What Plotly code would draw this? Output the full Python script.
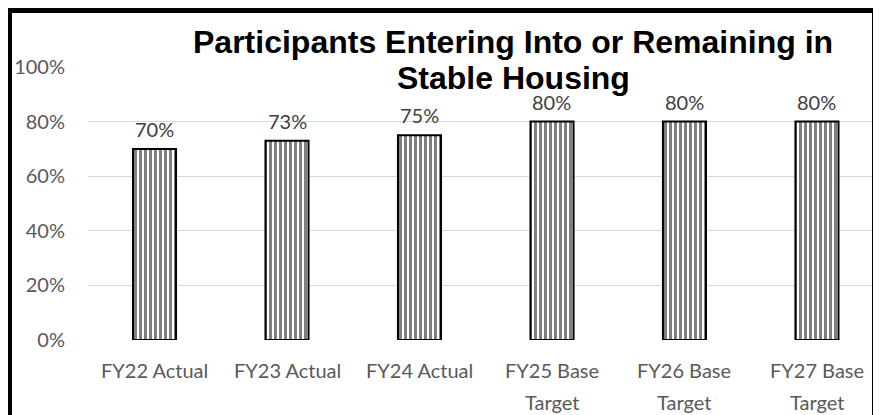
import plotly.graph_objects as go

categories = ["FY22 Actual", "FY23 Actual", "FY24 Actual", "FY25 Base Target", "FY26 Base Target", "FY27 Base Target"]
tick_lines = [["FY22 Actual"], ["FY23 Actual"], ["FY24 Actual"],
              ["FY25 Base", "Target"], ["FY26 Base", "Target"], ["FY27 Base", "Target"]]
values = [0.70, 0.73, 0.75, 0.80, 0.80, 0.80]
value_labels = ["70%", "73%", "75%", "80%", "80%", "80%"]
y_ticks = [0, 0.2, 0.4, 0.6, 0.8, 1.0]
y_tick_labels = ["0%", "20%", "40%", "60%", "80%", "100%"]
title_lines = ["Participants Entering Into or Remaining in", "Stable Housing"]

# page body margin offsets the figure by 8px
OFF = 8
W, H = 881 - OFF, 415 - OFF
# plot area (page px): x 88..875, y 67..340
L = 88 - OFF
T = 67 - OFF
R = W - (875 - OFF)
B = H - (340 - OFF)
PW = W - L - R
PH = H - T - B

def px_x(p):
    return (p - OFF - L) / PW

def px_y(p):
    return (H - B - (p - OFF)) / PH

fig = go.Figure()
fig.add_trace(go.Bar(
    x=categories, y=values, width=0.325,
    marker=dict(color="white",
                line=dict(color="black", width=2),
                pattern=dict(shape="|", fgcolor="black", bgcolor="white", size=5, solidity=0.6)),
    hoverinfo="skip",
))

annotations = []
for c, v, t in zip(categories, values, value_labels):
    annotations.append(dict(x=c, y=v, xref="x", yref="y", text=t, showarrow=False,
                            yanchor="bottom", yshift=6,
                            font=dict(family="Lato", size=20, color="#404040")))
for c, lines in zip(categories, tick_lines):
    for k, line in enumerate(lines):
        annotations.append(dict(x=c, y=px_y(370 + 32 * k), xref="x", yref="paper", text=line,
                                showarrow=False, yanchor="middle",
                                font=dict(family="Lato", size=20, color="#595959")))
for k, line in enumerate(title_lines):
    annotations.append(dict(x=px_x(513), y=px_y(42 + 36.5 * k), xref="paper", yref="paper", text="<b>" + line + "</b>",
                            showarrow=False, xanchor="center", yanchor="middle",
                            font=dict(family="Liberation Sans", size=32, color="black")))

shapes = [
    dict(type="rect", xref="paper", yref="paper", x0=px_x(0), x1=px_x(12), y0=px_y(0), y1=px_y(440),
         fillcolor="black", line=dict(width=0), layer="above"),
    dict(type="rect", xref="paper", yref="paper", x0=px_x(0), x1=px_x(900), y0=px_y(0), y1=px_y(13),
         fillcolor="black", line=dict(width=0), layer="above"),
    dict(type="rect", xref="paper", yref="paper", x0=px_x(872), x1=px_x(900), y0=px_y(0), y1=px_y(440),
         fillcolor="black", line=dict(width=0), layer="above"),
]

fig.update_layout(
    width=W, height=H,
    margin=dict(l=L, r=R, t=T, b=B, pad=0),
    paper_bgcolor="white", plot_bgcolor="white",
    showlegend=False,
    annotations=annotations,
    shapes=shapes,
    xaxis=dict(type="category", range=[-0.502, 5.438], showticklabels=False, showgrid=False,
               zeroline=False, showline=False, ticks=""),
    yaxis=dict(range=[0, 1], tickvals=y_ticks, ticktext=y_tick_labels, showgrid=True,
               gridcolor="#d9d9d9", gridwidth=1, zeroline=False, showline=False, ticks="",
               ticklabelstandoff=22,
               tickfont=dict(family="Lato", size=20, color="#595959")),
)

fig.write_html("out.html")
